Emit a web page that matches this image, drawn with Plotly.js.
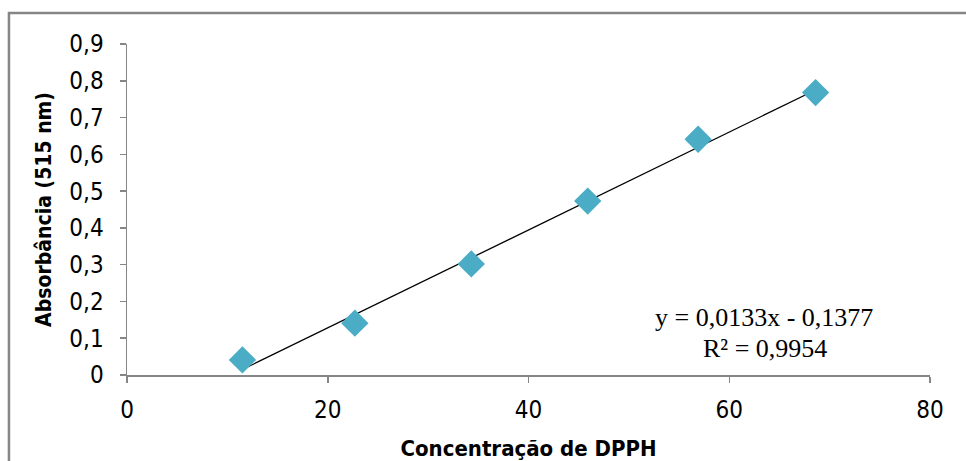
<!DOCTYPE html>
<html>
<head>
<meta charset="utf-8">
<script src="https://cdn.plot.ly/plotly-3.0.1.min.js"></script>
<style>
html,body{margin:0;padding:0;background:#fff;}
#chart{width:966px;height:461px;}
</style>
</head>
<body>
<div id="chart"></div>
<script>
// Data
const concentracao = [11.5, 22.7, 34.3, 45.9, 56.9, 68.6];
const absorbancia = [0.041, 0.141, 0.302, 0.473, 0.641, 0.768];
const trendX = [11.5, 68.6];
const trendY = [0.015, 0.775];
const equationLabel = "y = 0,0133x - 0,1377";
const r2Label = "R² = 0,9954";
const xTitle = "Concentração de DPPH";
const yTitle = "Absorbância (515 nm)";

const axisColor = "#868686";
const narrow = "'Liberation Sans Narrow', 'DejaVu Sans Condensed', Arial, sans-serif";
const serif = "'Liberation Serif', 'Times New Roman', serif";

const traces = [
  {
    x: trendX, y: trendY, type: "scatter", mode: "lines",
    line: {color: "#000000", width: 1.3},
    hoverinfo: "skip", showlegend: false
  },
  {
    x: concentracao, y: absorbancia, type: "scatter", mode: "markers",
    marker: {symbol: "diamond", size: 21, color: "#4BACC6", line: {width: 0}},
    showlegend: false
  }
];

const layout = {
  width: 966, height: 461,
  margin: {l: 127, r: 36, t: 44, b: 86},
  paper_bgcolor: "#ffffff", plot_bgcolor: "#ffffff",
  separators: ",.",
  showlegend: false,
  font: {family: narrow, color: "#000000"},
  xaxis: {
    range: [0, 80], dtick: 20, tick0: 0,
    showgrid: false, zeroline: false,
    showline: true, linecolor: axisColor, linewidth: 1.5,
    ticks: "outside", ticklen: 6, tickcolor: axisColor, tickwidth: 1.5,
    tickfont: {family: narrow, size: 24, color: "#000"},
    ticklabelstandoff: 7,
    title: {text: xTitle, font: {family: narrow, size: 22, color: "#000", weight: "bold"}, standoff: 18},
    automargin: false
  },
  yaxis: {
    range: [0, 0.9], dtick: 0.1, tick0: 0,
    showgrid: false, zeroline: false,
    showline: true, linecolor: axisColor, linewidth: 1.5,
    ticks: "outside", ticklen: 6, tickcolor: axisColor, tickwidth: 1.5,
    tickfont: {family: narrow, size: 24, color: "#000"},
    ticklabelstandoff: 11,
    title: {text: yTitle, font: {family: "'DejaVu Sans Condensed', 'Liberation Sans Narrow', sans-serif", size: 21, color: "#000", weight: "bold"}, standoff: 12},
    automargin: false
  },
  shapes: [
    {type: "rect", xref: "paper", yref: "paper",
     x0: -0.147, x1: 1.3, y0: -0.6, y1: 1.094,
     line: {color: axisColor, width: 2.5}, fillcolor: "rgba(0,0,0,0)", layer: "below"}
  ],
  annotations: [
    {xref: "x", yref: "y", x: 63.5, y: 0.155, text: equationLabel, showarrow: false,
     font: {family: serif, size: 26, color: "#000"}, xanchor: "center", yanchor: "middle"},
    {xref: "x", yref: "y", x: 63.6, y: 0.071, text: r2Label, showarrow: false,
     font: {family: serif, size: 26, color: "#000"}, xanchor: "center", yanchor: "middle"}
  ]
};

Plotly.newPlot("chart", traces, layout, {displayModeBar: false, staticPlot: true});
</script>
</body>
</html>
